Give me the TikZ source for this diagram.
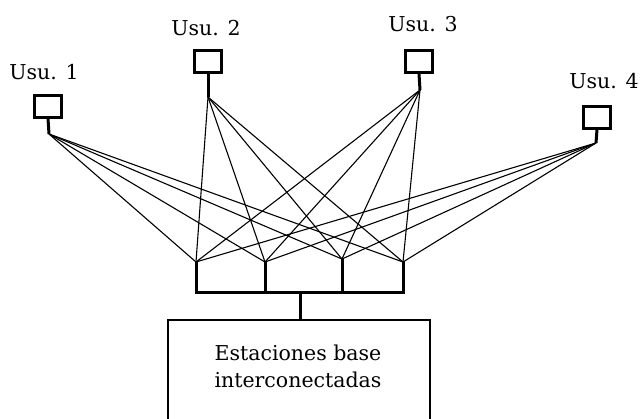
\documentclass[tikz,border=0pt]{standalone}
\usepackage{fontspec}
\setmainfont{DejaVu Serif}
\begin{document}
\begin{tikzpicture}[x=1pt,y=-1pt,
  userbox/.style={draw, line width=3pt, minimum width=27pt, minimum height=22pt, inner sep=0pt},
  stem/.style={line width=3pt},
  bus/.style={line width=3pt, line cap=rect},
  link/.style={line width=1.1pt},
  tag/.style={font=\fontsize{20.5}{27}\selectfont, inner sep=0pt},
  basebox/.style={draw, line width=2pt, minimum width=262pt, minimum height=120pt, anchor=north, inner sep=0pt}]
\clip (0,0) rectangle (640,418);
\fill[white] (0,0) rectangle (640,418);

% terminals with their labels
\node[userbox] (u1) at (48,106) {};
\node[userbox] (u2) at (208,61) {};
\node[userbox] (u3) at (419,61) {};
\node[userbox] (u4) at (597,117) {};
\node[tag] (t1) at (44,72) {Usu. 1};
\node[tag] (t2) at (206,28) {Usu. 2};
\node[tag] (t3) at (423,24) {Usu. 3};
\node[tag] (t4) at (604,81) {Usu. 4};

% antenna feed points under each terminal
\coordinate (p1) at (49,134);
\coordinate (p2) at (208,97);
\coordinate (p3) at (420,90);
\coordinate (p4) at (596,143);
\foreach \i in {1,...,4}{\draw[stem] (u\i.south) -- (p\i);}

% base station tops and the common bus
\coordinate (s1) at (196,262);
\coordinate (s2) at (265,262);
\coordinate (s3) at (342,259);
\coordinate (s4) at (403,262);
\coordinate (b1) at (196,292);
\coordinate (b4) at (403,292);
\coordinate (bm) at (300,292);

% radio links: every terminal to every base station
\foreach \i in {1,...,4}{
  \foreach \j in {1,...,4}{\draw[link] (p\i) -- (s\j);}
}

\draw[bus] (s1) -- (b1) -- (b4) -- (s4);
\draw[bus] (s2) -- (s2 |- b1);
\draw[bus] (s3) -- (s3 |- b1);

% interconnected base stations
\node[basebox] (bs) at (299,319) {};
\draw[stem] (bm) -- (bs.north -| bm);
\node[tag, align=center] (bstext) at (298,366) {Estaciones base\\interconectadas};
\end{tikzpicture}
\end{document}
